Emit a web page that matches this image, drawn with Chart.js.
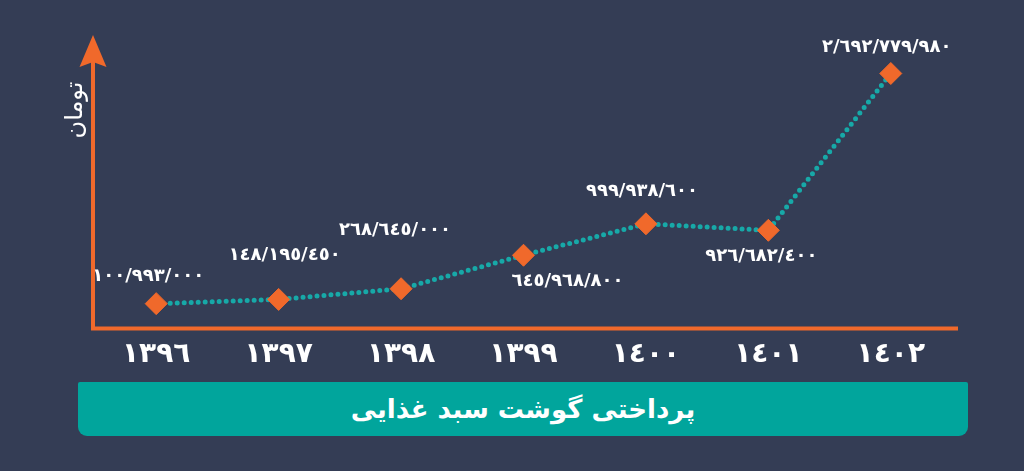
<!DOCTYPE html>
<html>
<head>
<meta charset="utf-8">
<script src="https://cdn.jsdelivr.net/npm/chart.js@4.4.1/dist/chart.umd.min.js"></script>
<style>
  html, body { margin: 0; padding: 0; background: #343d55; }
  #wrap { position: relative; width: 1024px; height: 471px; background: #343d55; overflow: hidden; }
  #chartBox { position: absolute; left: 0; top: 0; width: 1024px; height: 471px; }
  #banner {
    position: absolute; left: 78px; top: 382px; width: 890px; height: 54px;
    background: #01a59c; border-radius: 2px 2px 9px 9px;
    color: #ffffff; font-family: "DejaVu Sans", "Noto Sans", sans-serif; font-weight: bold;
    font-size: 26px; line-height: 54px; text-align: center; direction: rtl;
  }
</style>
</head>
<body>
<div id="wrap">
  <div id="chartBox"><canvas id="c"></canvas></div>
  <div id="banner"></div>
</div>
<script>
// ---- data ----
const categories = ['١٣٩٦', '١٣٩٧', '١٣٩٨', '١٣٩٩', '١٤٠٠', '١٤٠١', '١٤٠٢'];
const payments = [100993000, 148195450, 268645000, 645968800, 999938600, 926682400, 2692779980];
const yAxisTitle = 'تومان';
const chartTitle = 'پرداختی گوشت سبد غذایی';

// ---- styles ----
const ORANGE = '#f0692b';
const TEAL = '#17a9a8';
const FONT = '"DejaVu Sans", "Noto Sans", sans-serif';
// label offsets (px) from each point: [dx, dy]
const labelOffsets = [[-8, -27], [6, -44], [-6, -58], [44, 26], [-4, -32], [-7, 26], [-4, -26]];

document.getElementById('banner').textContent = chartTitle;

function toArabicDigits(n) {
  return n.toLocaleString('en-US').replace(/,/g, '/').replace(/\d/g, d => String.fromCharCode(0x0660 + Number(d)));
}

const decor = {
  id: 'decor',
  beforeDatasetsDraw(chart) {
    const { ctx, chartArea: a } = chart;
    ctx.save();
    ctx.strokeStyle = ORANGE;
    ctx.lineWidth = 4;
    ctx.lineCap = 'butt';
    ctx.beginPath();
    ctx.moveTo(a.left - 4, a.bottom);
    ctx.lineTo(a.right + 6, a.bottom);
    ctx.moveTo(a.left - 2, a.bottom + 2);
    ctx.lineTo(a.left - 2, a.top + 20);
    ctx.stroke();
    const x = a.left - 2;
    ctx.fillStyle = ORANGE;
    ctx.beginPath();
    ctx.moveTo(x, a.top - 5);
    ctx.lineTo(x + 13.5, a.top + 27);
    ctx.lineTo(x, a.top + 22);
    ctx.lineTo(x - 13.5, a.top + 27);
    ctx.closePath();
    ctx.fill();
    ctx.translate(76, 110);
    ctx.rotate(-Math.PI / 2);
    ctx.fillStyle = '#ffffff';
    ctx.font = '24px ' + FONT;
    ctx.textAlign = 'center';
    ctx.textBaseline = 'middle';
    ctx.fillText(yAxisTitle, 0, 0);
    ctx.restore();
  },
  afterDatasetsDraw(chart) {
    const { ctx } = chart;
    const meta = chart.getDatasetMeta(0);
    ctx.save();
    ctx.fillStyle = '#ffffff';
    ctx.font = 'bold 18px ' + FONT;
    ctx.textAlign = 'center';
    ctx.textBaseline = 'middle';
    ctx.direction = 'ltr';
    meta.data.forEach((pt, i) => {
      const txt = toArabicDigits(payments[i]);
      const [dx, dy] = labelOffsets[i];
      ctx.fillText(txt, pt.x + dx, pt.y + dy);
    });
    ctx.restore();
  }
};

new Chart(document.getElementById('c'), {
  type: 'line',
  data: {
    labels: categories,
    datasets: [{
      data: payments,
      borderColor: TEAL,
      borderWidth: 5,
      borderDash: [0, 7],
      borderCapStyle: 'round',
      tension: 0,
      fill: false,
      pointStyle: 'rectRot',
      pointRadius: 11,
      pointHoverRadius: 11,
      pointBackgroundColor: ORANGE,
      pointBorderColor: ORANGE,
      pointBorderWidth: 1
    }]
  },
  options: {
    responsive: true,
    maintainAspectRatio: false,
    animation: false,
    events: [],
    layout: { padding: { left: 95, right: 72, top: 40, bottom: 89 } },
    plugins: { legend: { display: false }, tooltip: { enabled: false }, title: { display: false } },
    scales: {
      x: {
        offset: true,
        grid: { display: false, drawTicks: false },
        border: { display: false },
        ticks: { color: '#ffffff', font: { family: FONT, size: 28, weight: 'bold' }, padding: 10, maxRotation: 0 }
      },
      y: {
        display: false,
        min: -178000000,
        max: 3070000000
      }
    }
  },
  plugins: [decor]
});
</script>
</body>
</html>
